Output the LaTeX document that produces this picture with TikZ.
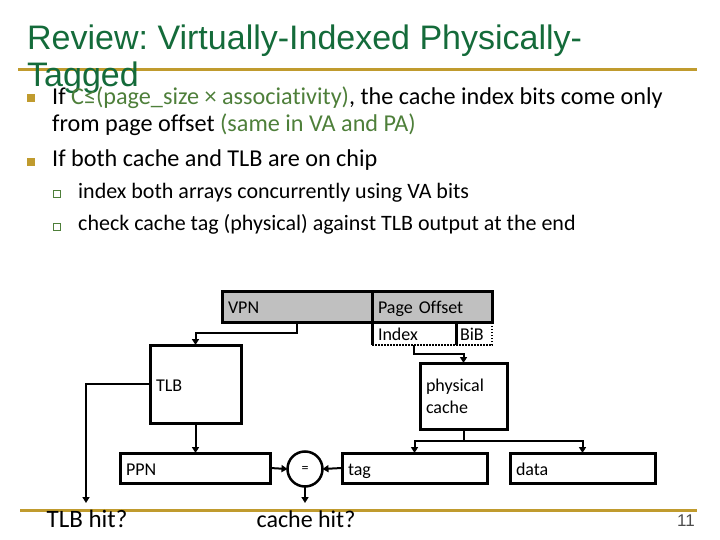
\documentclass[tikz,border=0pt]{standalone}
\usepackage{fontspec}
\setmainfont{Carlito}[Ligatures={NoCommon}]
\newfontfamily\titlefont{Liberation Sans}
\usetikzlibrary{arrows.meta}
\definecolor{titlegreen}{HTML}{146B3A}
\definecolor{gold}{HTML}{C09B2E}
\definecolor{txtgreen}{HTML}{4E7F3A}
\definecolor{boxgray}{HTML}{C0C0C0}
\frenchspacing
\begin{document}
\frenchspacing
\begin{tikzpicture}[x=1bp,y=-1bp,
  box/.style={draw, line width=3bp, rectangle, inner xsep=6bp, inner ysep=0pt, outer sep=0pt,
    anchor=north west, align=left, text height=14bp, text depth=0bp,
    font=\fontsize{18bp}{22bp}\selectfont},
  plain/.style={rectangle, inner xsep=6bp, inner ysep=0pt, outer sep=0pt,
    anchor=north west, align=left, text height=14bp, text depth=0bp,
    font=\fontsize{18bp}{22bp}\selectfont},
  conn/.style={line width=2bp},
  arr/.style={conn, -{Triangle[length=6bp,width=7bp]}},
  txt/.style={anchor=base west, inner sep=0pt},
  bodyfont/.style={font=\fontsize{24.2bp}{28bp}\selectfont},
  subfont/.style={font=\fontsize{22bp}{26bp}\selectfont},
  titlestyle/.style={anchor=base west, inner sep=0pt, text=titlegreen, font=\titlefont\fontsize{34bp}{40bp}\selectfont},
  goldsq/.style={fill=gold, minimum size=8.5bp, inner sep=0pt},
  hollowsq/.style={draw=txtgreen, line width=1.2bp, minimum size=6.5bp, inner sep=0pt},
  rule/.style={draw=gold, line width=3bp},
]
\useasboundingbox (0,0) rectangle (720,540);
% rules
\draw[rule] (18,70) -- (697,70);
\draw[rule] (20,510) -- (697,510);
% title
\node[titlestyle] (t1) at (27,50) {Review: Virtually-Indexed Physically-};
\node[titlestyle] (t2) at (27,87) {Tagged};
% bullets
\node[goldsq] (q1) at (31,98) {};
\node[txt, bodyfont] (b1) at (52,105) {If \textcolor{txtgreen}{C≤(page\_size × associativity)}, the cache index bits come only};
\node[txt, bodyfont] (b1b) at (52,132) {from page offset \textcolor{txtgreen}{(same in VA and PA)}};
\node[goldsq] (q2) at (31,162) {};
\node[txt, bodyfont] (b2) at (52,167) {If both cache and TLB are on chip};
\node[hollowsq] (s1q) at (57,194) {};
\node[txt, subfont] (s1) at (78,199) {index both arrays concurrently using VA bits};
\node[hollowsq] (s2q) at (57,227) {};
\node[txt, subfont] (s2) at (78,231) {check cache tag (physical) against TLB output at the end};
% address boxes
\node[box, fill=boxgray, text width=138bp, minimum height=31bp] (vpn) at (222,291) {VPN};
\node[box, fill=boxgray, text width=108bp, minimum height=31bp] (po) at (372,291) {Page Offset};
\node[plain, text width=72bp, minimum height=23bp] (index) at (372,322) {Index};
\node[plain, inner xsep=4bp, text width=28bp, minimum height=23bp] (bib) at (456,322) {BiB};
\draw[line width=3bp] (index.north west) -- (index.south west);
\draw[line width=3bp] (bib.north west) -- (bib.south west);
\draw[line width=2.5bp, dash pattern=on 1.5bp off 1.5bp] (index.south west) -- (bib.south east) -- (bib.north east);
% blocks
\node[box, text width=79bp, minimum height=78bp] (tlb) at (150,345) {TLB};
\node[box, text width=75bp, minimum height=66bp, text height=, text depth=] (cache) at (420,363) {physical\\cache};
\node[box, text width=138bp, minimum height=30bp] (ppn) at (120,453) {PPN};
\node[box, text width=133bp, minimum height=30bp] (tag) at (342,453) {tag};
\node[box, text width=133bp, minimum height=30bp] (data) at (510,453) {data};
\node[draw, circle, line width=2.5bp, minimum size=35bp, inner sep=0pt, outer sep=0pt,
  font=\fontsize{14bp}{16bp}\selectfont] (eq) at (305,469) {=};
% outputs
\node[txt, anchor=base, font=\fontsize{25bp}{28bp}\selectfont] (tlbhit) at (87,527) {TLB hit?};
\node[txt, anchor=base, font=\fontsize{24bp}{28bp}\selectfont] (cachehit) at (306,527) {cache hit?};
\coordinate (tlbhitpt) at (86,503);
\coordinate (cachehitpt) at (305,503);
\node[anchor=base east, inner sep=0pt, text=black!70, font=\titlefont\fontsize{17bp}{20bp}\selectfont] (pg) at (695,526) {11};
% connectors
\draw[arr] (vpn.south) -- ++(0,11) -| (tlb.north);
\draw[arr] (index.south) -- ++(0,9) -| (cache.north);
\draw[arr] (tlb.west) -| (tlbhitpt);
\draw[arr] (tlb.south) -- (tlb.south |- ppn.north);
\draw[arr] (ppn.east) -- (eq.west);
\draw[arr] (tag.west) -- (eq.east);
\draw[arr] (eq.south) -- (cachehitpt);
\draw[conn] (cache.south) -- ++(0,12) coordinate (split);
\draw[arr] (split) -| (tag.north);
\draw[arr] (split) -| (data.north);
\end{tikzpicture}
\end{document}
